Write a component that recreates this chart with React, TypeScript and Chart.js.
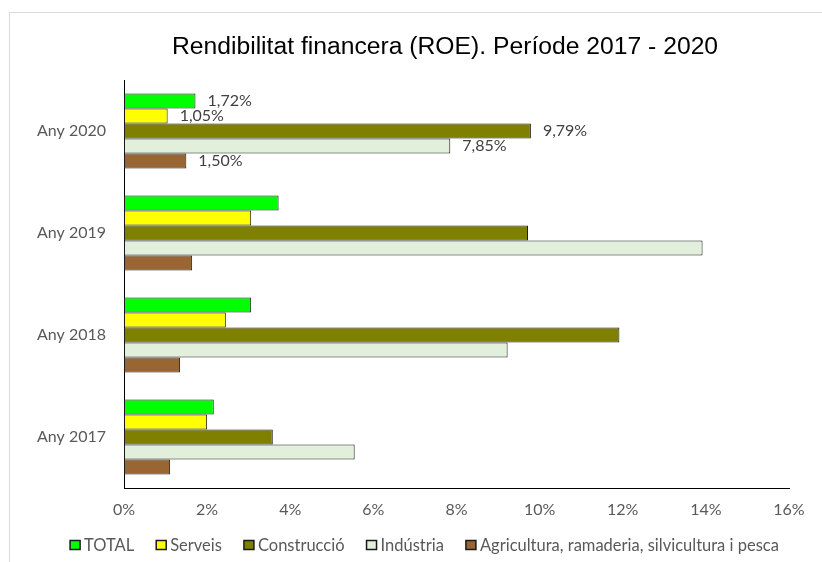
import React, { useEffect, useRef } from "react";
import { Chart, registerables } from "chart.js";

Chart.register(...registerables);

const categories = ["Any 2020", "Any 2019", "Any 2018", "Any 2017"];
const seriesNames = [
  "TOTAL",
  "Serveis",
  "Construcció",
  "Indústria",
  "Agricultura, ramaderia, silvicultura i pesca",
];
const totalValues = [1.72, 3.72, 3.06, 2.16];
const serveisValues = [1.05, 3.06, 2.45, 2.0];
const construccioValues = [9.79, 9.72, 11.92, 3.58];
const industriaValues = [7.85, 13.92, 9.23, 5.55];
const agriculturaValues = [1.5, 1.64, 1.35, 1.11];
const seriesColors = ["#00FF00", "#FFFF00", "#808000", "#E2EFDA", "#996633"];
const labelledCategory = "Any 2020";
const titleText = "Rendibilitat financera (ROE). Període 2017 - 2020";
const xMin = 0;
const xMax = 16;
const xStep = 2;

const fmt = (v: number) => v.toFixed(2).replace(".", ",") + "%";

const titlePlugin = {
  id: "customTitle",
  afterDraw(chart: any) {
    const ctx = chart.ctx;
    ctx.save();
    ctx.font = "24.7px 'Liberation Sans'";
    ctx.fillStyle = "#000000";
    ctx.textAlign = "center";
    ctx.textBaseline = "middle";
    ctx.fillText(titleText, chart.width / 2, 34);
    ctx.restore();
  },
};

const dataLabelPlugin = {
  id: "dataLabels",
  afterDatasetsDraw(chart: any) {
    const ctx = chart.ctx;
    const idx = chart.data.labels.indexOf(labelledCategory);
    ctx.save();
    ctx.font = "16px Lato";
    ctx.fillStyle = "#404040";
    ctx.textAlign = "left";
    ctx.textBaseline = "middle";
    chart.data.datasets.forEach((ds: any, di: number) => {
      const meta = chart.getDatasetMeta(di);
      const bar = meta.data[idx];
      if (!bar) return;
      ctx.fillText(fmt(ds.data[idx]), bar.x + 12, bar.y);
    });
    ctx.restore();
  },
};

const legendPlugin = {
  id: "customLegend",
  afterDraw(chart: any) {
    const ctx = chart.ctx;
    ctx.save();
    ctx.font = "16.5px Lato";
    const box = 10;
    const boxH = 9;
    const gapText = 4;
    const gapItem = 22;
    const items = chart.data.datasets.map((ds: any) => ({
      label: ds.label,
      color: ds.backgroundColor,
      w: box + gapText + ctx.measureText(ds.label).width,
    }));
    const totalW =
      items.reduce((s: number, it: any) => s + it.w, 0) + gapItem * (items.length - 1);
    const centerX = 414.5;
    const y = chart.height - 17;
    let x = centerX - totalW / 2;
    ctx.textBaseline = "middle";
    ctx.textAlign = "left";
    items.forEach((it: any) => {
      ctx.fillStyle = it.color;
      ctx.fillRect(x, y - boxH / 2, box, boxH);
      ctx.strokeStyle = "#1a1a1a";
      ctx.lineWidth = 1.5;
      ctx.strokeRect(x, y - boxH / 2, box, boxH);
      ctx.fillStyle = "#595959";
      ctx.fillText(it.label, x + box + gapText, y + 1);
      x += it.w + gapItem;
    });
    ctx.restore();
  },
};

export default function App() {
  const ref = useRef<HTMLCanvasElement>(null);
  useEffect(() => {
    if (!ref.current) return;
    const valueSets = [
      totalValues,
      serveisValues,
      construccioValues,
      industriaValues,
      agriculturaValues,
    ];
    const chart = new Chart(ref.current, {
      type: "bar",
      data: {
        labels: categories,
        datasets: seriesNames.map((name, i) => ({
          label: name,
          data: valueSets[i],
          backgroundColor: seriesColors[i],
          borderColor: "#1a1a1a",
          borderWidth: 1,
          borderSkipped: false,
          barPercentage: 1,
          categoryPercentage: 0.735,
        })),
      },
      options: {
        indexAxis: "y",
        animation: false,
        responsive: true,
        maintainAspectRatio: false,
        layout: { padding: { left: 0, right: 91, top: 67, bottom: 40 } },
        plugins: {
          legend: { display: false },
          tooltip: { enabled: false },
          title: { display: false },
        },
        scales: {
          x: {
            min: xMin,
            max: xMax,
            grid: { display: false, drawTicks: false },
            border: { display: true, color: "#000000", width: 1 },
            ticks: {
              stepSize: xStep,
              padding: 12,
              color: "#595959",
              font: { family: "Lato", size: 16 },
              callback: (v: any) => v + "%",
            },
            afterFit: (s: any) => {
              s.height = 34;
            },
          },
          y: {
            grid: { display: false, drawTicks: false },
            border: { display: true, color: "#000000", width: 1 },
            ticks: {
              padding: 18,
              color: "#595959",
              font: { family: "Lato", size: 16 },
            },
            afterFit: (s: any) => {
              s.width = 114;
            },
          },
        },
      },
      plugins: [dataLabelPlugin, legendPlugin, titlePlugin],
    });
    return () => chart.destroy();
  }, []);

  return (
    <div
      style={{
        position: "fixed",
        left: 0,
        top: 0,
        width: 822,
        height: 562,
        overflow: "hidden",
        background: "#ffffff",
      }}
    >
      <div
        style={{
          position: "absolute",
          left: 9,
          top: 12,
          width: 900,
          height: 600,
          borderTop: "1px solid #d9d9d9",
          borderLeft: "1px solid #d9d9d9",
        }}
      />
      <div style={{ position: "absolute", left: 10, top: 13, width: 870, height: 549 }}>
        <canvas ref={ref} />
      </div>
    </div>
  );
}
